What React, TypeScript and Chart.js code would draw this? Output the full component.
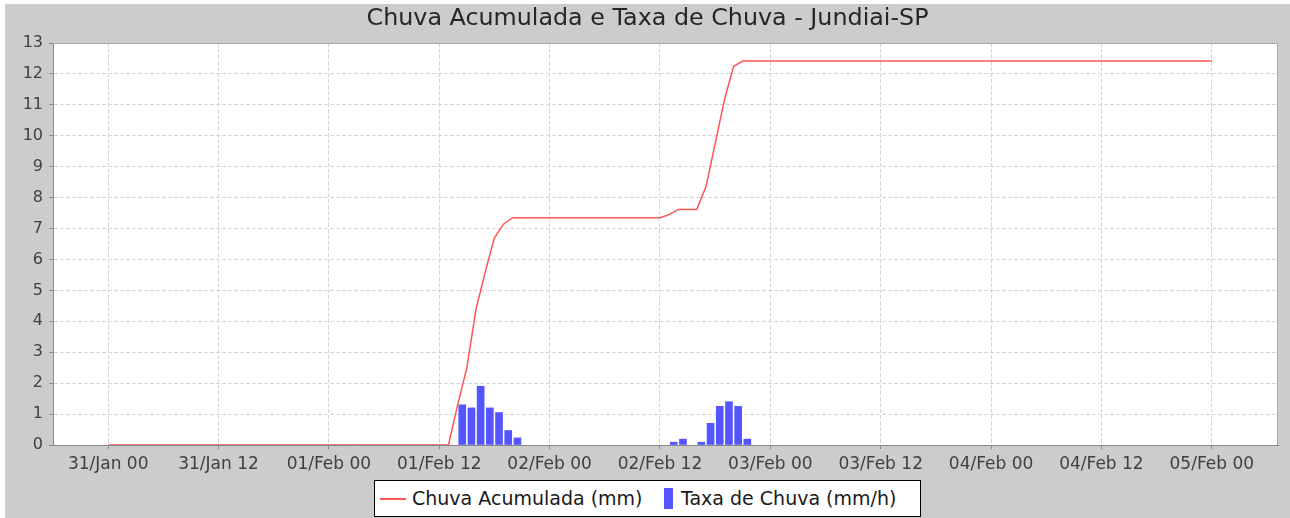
import React, { useEffect, useRef } from 'react';
import { Chart, registerables } from 'chart.js';

Chart.register(...registerables);

// X axis is expressed in hours since 31/Jan 00:00
const tickHours = [0, 12, 24, 36, 48, 60, 72, 84, 96, 108, 120];
const tickLabels = [
  '31/Jan 00', '31/Jan 12', '01/Feb 00', '01/Feb 12', '02/Feb 00', '02/Feb 12',
  '03/Feb 00', '03/Feb 12', '04/Feb 00', '04/Feb 12', '05/Feb 00',
];

// Chuva Acumulada (mm)
const accumHours = [0, 37, 38, 39, 40, 41, 42, 43, 44, 60, 61, 62, 64, 65, 66, 67, 68, 69, 120];
const accumValues = [0, 0, 1.3, 2.5, 4.4, 5.6, 6.7, 7.15, 7.35, 7.35, 7.45, 7.62, 7.62, 8.35, 9.75, 11.15, 12.25, 12.42, 12.42];

// Taxa de Chuva (mm/h)
const rateHours = [38.5, 39.5, 40.5, 41.5, 42.5, 43.5, 44.5, 61.5, 62.5, 64.5, 65.5, 66.5, 67.5, 68.5, 69.5];
const rateValues = [1.3, 1.2, 1.9, 1.2, 1.05, 0.47, 0.23, 0.09, 0.19, 0.09, 0.7, 1.25, 1.4, 1.25, 0.19];

const xMin = -6;
const xMax = 127.2;
const yMin = 0;
const yMax = 13;

const TITLE = 'Chuva Acumulada e Taxa de Chuva - Jundiai-SP';
const LINE_LABEL = 'Chuva Acumulada (mm)';
const BAR_LABEL = 'Taxa de Chuva (mm/h)';
const LINE_COLOR = 'rgb(255,85,85)';
const BAR_COLOR = 'rgb(85,85,255)';
const FONT = "'DejaVu Sans', sans-serif";

const plotFrame = {
  id: 'plotFrame',
  beforeDraw(chart: any) {
    const { ctx, chartArea: a } = chart;
    ctx.save();
    ctx.fillStyle = '#ffffff';
    ctx.fillRect(a.left, a.top, a.right - a.left, a.bottom - a.top);
    ctx.restore();
  },
  afterDraw(chart: any) {
    const { ctx, chartArea: a } = chart;
    ctx.save();
    ctx.strokeStyle = '#a8a8a8';
    ctx.lineWidth = 1;
    ctx.beginPath();
    ctx.moveTo(a.left, a.top + 0.5);
    ctx.lineTo(a.right - 0.5, a.top + 0.5);
    ctx.lineTo(a.right - 0.5, a.bottom);
    ctx.stroke();
    ctx.restore();
  },
};

export default function App() {
  const canvasRef = useRef<HTMLCanvasElement | null>(null);

  useEffect(() => {
    document.body.style.margin = '0';
    const canvas = canvasRef.current;
    if (!canvas) return;
    const lineData = accumHours.map((h, i) => ({ x: h, y: accumValues[i] }));
    const barData = rateHours.map((h, i) => ({ x: h, y: rateValues[i] }));

    const chart = new Chart(canvas, {
      type: 'bar',
      data: {
        datasets: [
          {
            type: 'line',
            label: LINE_LABEL,
            data: lineData,
            borderColor: LINE_COLOR,
            backgroundColor: LINE_COLOR,
            borderWidth: 1.5,
            pointRadius: 0,
            tension: 0,
            fill: false,
            order: 0,
          } as any,
          {
            type: 'bar',
            label: BAR_LABEL,
            data: barData,
            backgroundColor: BAR_COLOR,
            borderWidth: 0,
            barThickness: 7,
            order: 1,
          } as any,
        ],
      },
      options: {
        responsive: false,
        animation: false,
        events: [],
        layout: { padding: { left: 0, right: 0, top: 0, bottom: 0 } },
        plugins: {
          legend: { display: false },
          tooltip: { enabled: false },
          title: {
            display: true,
            text: TITLE,
            color: '#262626',
            font: { family: FONT, size: 23.8, weight: 'normal' },
            padding: { top: 0.5, bottom: 10 },
          },
        },
        scales: {
          x: {
            type: 'linear',
            min: xMin,
            max: xMax,
            offset: false,
            afterBuildTicks: (scale: any) => {
              scale.ticks = tickHours.map((v) => ({ value: v }));
            },
            afterFit: (scale: any) => {
              scale.height = 31;
            },
            ticks: {
              autoSkip: false,
              maxRotation: 0,
              color: '#404040',
              padding: 5,
              font: { family: FONT, size: 17 },
              callback: (v: any) => {
                const i = tickHours.indexOf(Number(v));
                return i >= 0 ? tickLabels[i] : '';
              },
            },
            grid: {
              offset: false,
              color: '#d6d6d6',
              lineWidth: 1,
              tickLength: 4,
              tickColor: '#888888',
              tickWidth: 1,
            },
            border: { display: true, color: '#888888', width: 1, dash: [4, 2] },
          },
          y: {
            type: 'linear',
            min: yMin,
            max: yMax,
            afterFit: (scale: any) => {
              scale.width = 48;
            },
            ticks: {
              stepSize: 1,
              color: '#404040',
              padding: 6,
              font: { family: FONT, size: 16 },
            },
            grid: {
              color: '#d6d6d6',
              lineWidth: 1,
              tickLength: 4,
              tickColor: '#888888',
              tickWidth: 1,
            },
            border: { display: true, color: '#888888', width: 1, dash: [4, 2] },
          },
          yRight: {
            type: 'linear',
            position: 'right',
            min: yMin,
            max: yMax,
            afterFit: (scale: any) => {
              scale.width = 12;
            },
            ticks: { display: false },
            grid: { display: false, drawOnChartArea: false },
            border: { display: false },
          },
        },
      } as any,
      plugins: [plotFrame],
    });
    return () => chart.destroy();
  }, []);

  const textStyle: React.CSSProperties = {
    position: 'absolute',
    top: 0,
    height: 35,
    lineHeight: '35px',
    fontFamily: FONT,
    fontSize: 19,
    color: '#1a1a1a',
    whiteSpace: 'nowrap',
  };

  return (
    <div style={{ position: 'relative', width: 1290, height: 518, background: '#ffffff', overflow: 'hidden' }}>
      <div style={{ position: 'absolute', left: 5, top: 4, width: 1285, height: 514, background: 'rgb(204,204,204)' }}>
        <canvas
          ref={canvasRef}
          width={1285}
          height={472}
          style={{ position: 'absolute', left: 0, top: 0, width: 1285, height: 472 }}
        />
        <div
          style={{
            position: 'absolute',
            left: 369,
            top: 476,
            width: 547,
            height: 37,
            boxSizing: 'border-box',
            border: '1px solid #000',
            background: '#fff',
          }}
        >
          <div style={{ position: 'absolute', left: 5, top: 17, width: 26, height: 1.5, background: LINE_COLOR }} />
          <span style={{ ...textStyle, left: 37 }}>{LINE_LABEL}</span>
          <div style={{ position: 'absolute', left: 289, top: 7, width: 9, height: 21, background: BAR_COLOR }} />
          <span style={{ ...textStyle, left: 306 }}>{BAR_LABEL}</span>
        </div>
      </div>
    </div>
  );
}
